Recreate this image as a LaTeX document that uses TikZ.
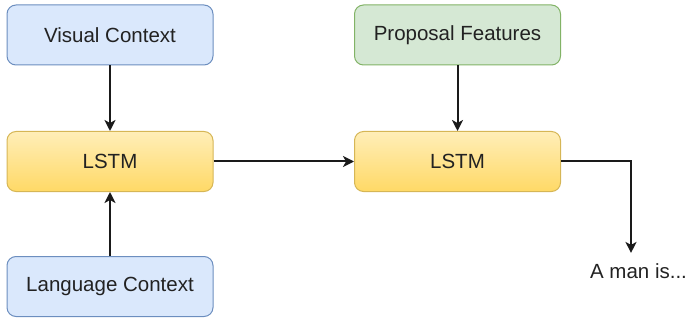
\documentclass[tikz,border=0pt]{standalone}
\usepackage{fontspec}
\setmainfont{Liberation Sans}
\usetikzlibrary{arrows.meta,positioning}
\definecolor{bluefill}{HTML}{DAE8FC}
\definecolor{bluedraw}{HTML}{6C8EBF}
\definecolor{greenfill}{HTML}{D5E8D4}
\definecolor{greendraw}{HTML}{82B366}
\definecolor{yellowtop}{HTML}{FFEEB8}
\definecolor{yellowbot}{HTML}{FFD966}
\definecolor{yellowdraw}{HTML}{D6B656}
\definecolor{ink}{HTML}{222222}
\definecolor{wire}{HTML}{1A1A1A}
\tikzset{
  box/.style={rectangle, rounded corners=9pt, minimum width=206pt, minimum height=60pt,
    line width=1pt, text=ink, font=\fontsize{20.5}{24}\selectfont, inner sep=0pt},
  ctxbox/.style={box, fill=bluefill, draw=bluedraw},
  propbox/.style={box, fill=greenfill, draw=greendraw},
  lstmbox/.style={box, top color=yellowtop, bottom color=yellowbot, draw=yellowdraw},
  flow/.style={draw=wire, line width=2pt, -{Stealth[length=11pt,width=11pt,inset=3pt]}},
}
\begin{document}
\begin{tikzpicture}[x=1pt, y=-1pt]
  \useasboundingbox (0,0) rectangle (687,323);
  % left column
  \node[ctxbox]  (vis)  at (110, 35)  {Visual Context};
  \node[lstmbox] (lstmA) at (110, 161.5) {LSTM};
  \node[ctxbox]  (lang) at (110, 286.5) {Language Context};
  % right column
  \node[propbox] (prop) at (457.5, 35) {Proposal Features};
  \node[lstmbox] (lstmB) at (457.5, 161.5) {LSTM};
  % output text
  \node[text=ink, font=\fontsize{20.5}{24}\selectfont, inner sep=0pt, anchor=base]
    (out) at (638.5, 278) {A man is...};
  % connectors
  \draw[flow] (vis) -- (lstmA);
  \draw[flow] (lang) -- (lstmA);
  \draw[flow] (prop) -- (lstmB);
  \draw[flow] (lstmA) -- (lstmB);
  \draw[flow] (lstmB.east) -| ([xshift=-7.5pt, yshift=10pt]out.north);
\end{tikzpicture}
\end{document}
